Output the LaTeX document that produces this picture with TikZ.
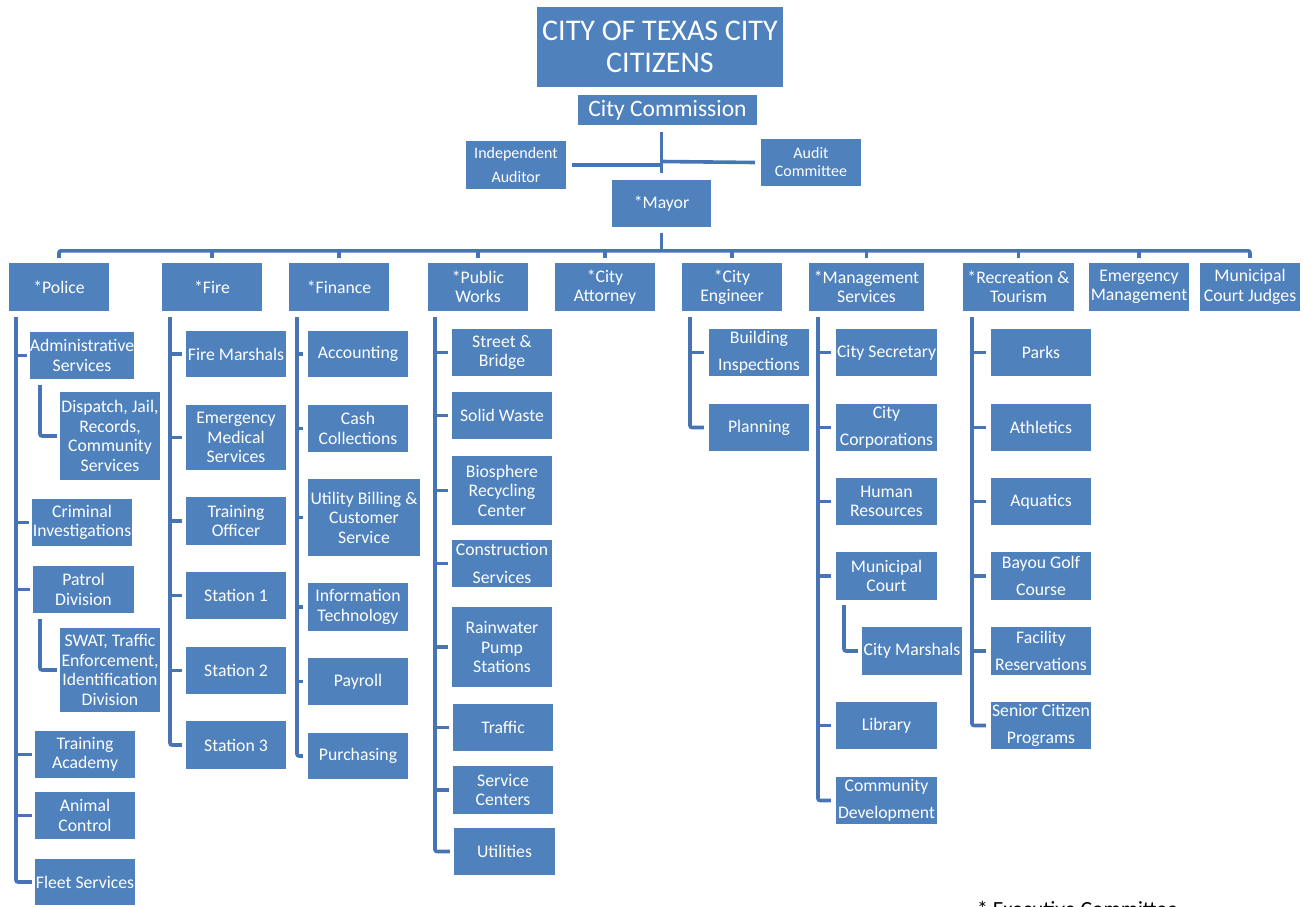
\documentclass[tikz,border=0pt]{standalone}
\usepackage{fontspec}
\setmainfont{Carlito}
\definecolor{boxblue}{HTML}{4F81BD}
\definecolor{lineblue}{HTML}{4674B5}
\tikzset{
  box/.style={fill=boxblue, draw=none, text=white, align=center, inner sep=0pt,
    font=\fontsize{17.7}{19.5}\selectfont},
  wide/.style={font=\fontsize{17.7}{27.5}\selectfont},
  conn/.style={draw=lineblue, line width=3.6pt, rounded corners=2pt}
}
\newcommand{\orgbox}[7][]{\node[box,#1,minimum width={#5-#3},minimum height={#6-#4}] (#2) at ({(#3+#5)/2},{(#4+#6)/2}) {#7};}
\begin{document}
\begin{tikzpicture}[x=1pt,y=-1pt]
\useasboundingbox (0,0) rectangle (1312,907);
% top
\orgbox[font=\fontsize{30}{32}\selectfont]{title}{537}{7}{783}{87}{CITY OF TEXAS CITY\\CITIZENS}
\orgbox[font=\fontsize{23.5}{26}\selectfont]{comm}{578}{95}{757}{125}{City Commission}
\orgbox[font=\fontsize{16}{24}\selectfont]{ind}{466}{141}{566}{189}{Independent\\Auditor}
\orgbox[font=\fontsize{16}{18}\selectfont]{aud}{761}{139}{861}{186}{Audit\\Committee}
\orgbox{mayor}{612}{180}{711}{227}{*Mayor}
% level 2
\orgbox{police}{9}{263}{109}{311}{*Police}
\orgbox{fire}{162}{263}{262}{311}{*Fire}
\orgbox{finance}{289}{263}{389}{311}{*Finance}
\orgbox{pw}{428}{263}{528}{311}{*Public\\Works}
\orgbox{atty}{555}{263}{655}{311}{*City\\Attorney}
\orgbox{eng}{682}{263}{782}{311}{*City\\Engineer}
\orgbox{mgmt}{809}{263}{924}{311}{*Management\\Services}
\orgbox{rec}{963}{263}{1074}{311}{*Recreation \&\\Tourism}
\orgbox{emerg}{1089}{263}{1189}{311}{Emergency\\Management}
\orgbox{judges}{1200}{263}{1300}{311}{Municipal\\Court Judges}
% police
\orgbox{admin}{32}{332}{132}{379}{Administrative\\Services}
\orgbox{dispatch}{60}{392}{160}{480}{Dispatch, Jail,\\Records,\\Community\\Services}
\orgbox{crim}{32}{499}{132}{546}{Criminal\\Investigations}
\orgbox{patrol}{33}{566}{134}{613}{Patrol\\Division}
\orgbox{swat}{60}{628}{160}{712}{SWAT, Traffic\\Enforcement,\\Identification\\Division}
\orgbox{tacad}{35}{731}{135}{778}{Training\\Academy}
\orgbox{animal}{35}{792}{135}{839}{Animal\\Control}
\orgbox{fleet}{35}{859}{135}{905}{Fleet Services}
% fire
\orgbox{fm}{186}{331}{286}{377}{Fire Marshals}
\orgbox{ems}{186}{405}{286}{470}{Emergency\\Medical\\Services}
\orgbox{tofc}{186}{497}{286}{545}{Training\\Officer}
\orgbox{sa}{186}{572}{286}{619}{Station 1}
\orgbox{sb}{186}{647}{286}{694}{Station 2}
\orgbox{sc}{186}{721}{286}{769}{Station 3}
% finance
\orgbox{acct}{308}{331}{408}{377}{Accounting}
\orgbox{cash}{308}{405}{408}{452}{Cash\\Collections}
\orgbox{ubill}{308}{479}{420}{556}{Utility Billing \&\\Customer\\Service}
\orgbox{it}{308}{583}{408}{631}{Information\\Technology}
\orgbox{pay}{308}{658}{408}{705}{Payroll}
\orgbox{purch}{308}{733}{408}{779}{Purchasing}
% public works
\orgbox{street}{452}{329}{552}{376}{Street \&\\Bridge}
\orgbox{solid}{452}{392}{552}{439}{Solid Waste}
\orgbox{bio}{452}{456}{552}{525}{Biosphere\\Recycling\\Center}
\orgbox[wide]{cons}{452}{540}{552}{587}{Construction\\Services}
\orgbox{rain}{452}{607}{552}{687}{Rainwater\\Pump\\Stations}
\orgbox{traffic}{453}{704}{553}{751}{Traffic}
\orgbox{svc}{453}{766}{553}{814}{Service\\Centers}
\orgbox{util}{454}{828}{555}{875}{Utilities}
% engineer
\orgbox[wide]{bi}{709}{329}{809}{376}{Building\\Inspections}
\orgbox{plan}{709}{404}{809}{451}{Planning}
% management
\orgbox{sec}{836}{329}{937}{376}{City Secretary}
\orgbox[wide]{corp}{836}{404}{937}{451}{City\\Corporations}
\orgbox{hr}{836}{478}{937}{525}{Human\\Resources}
\orgbox{mc}{836}{552}{937}{600}{Municipal\\Court}
\orgbox{marsh}{862}{627}{962}{675}{City Marshals}
\orgbox{lib}{836}{702}{937}{749}{Library}
\orgbox[wide]{cd}{836}{777}{937}{824}{Community\\Development}
% recreation
\orgbox{parks}{991}{329}{1091}{376}{Parks}
\orgbox{ath}{991}{404}{1091}{451}{Athletics}
\orgbox{aqu}{991}{478}{1091}{525}{Aquatics}
\orgbox[wide]{golf}{991}{552}{1091}{600}{Bayou Golf\\Course}
\orgbox[wide]{fac}{991}{627}{1091}{675}{Facility\\Reservations}
\orgbox[wide]{senior}{991}{702}{1091}{749}{Senior Citizen\\Programs}
% footnote
\node[anchor=base west, inner sep=0pt, font=\fontsize{21.6}{24}\selectfont, text=black] (exec) at (977,916) {* Executive Committee};

% top connectors
\draw[conn] ([yshift=-7]comm.south -| mayor.north) -- ([yshift=7]mayor.north);
\draw[conn] ([xshift=6]ind.east) -- (ind.east -| mayor.north);
\draw[conn] ([yshift=1]mayor.north |- aud.west) -- ([xshift=-6]aud.west);
\draw[conn] ([yshift=-6]mayor.south) -- ([yshift=12]mayor.south |- police.north);
% bus
\draw[conn] ([yshift=5]police.north) |- ([yshift=12]judges.north) -- ([yshift=5]judges.north);
\foreach \n in {fire,finance,pw,atty,eng,mgmt,rec,emerg}
  \draw[conn, rounded corners=0pt] ([yshift=5]\n.north) -- ([yshift=13]\n.north);
% column tops
\coordinate (polV) at (16,317);
\coordinate (fireV) at (170,317);
\coordinate (finV) at (297,317);
\coordinate (pwV) at (435,317);
\coordinate (engV) at (690,317);
\coordinate (mgV) at (818,317);
\coordinate (recV) at (972,317);
% police
\draw[conn] (polV) |- ([xshift=-3]fleet.west);
\foreach \c in {admin,crim,patrol,tacad,animal}
  \draw[conn, rounded corners=0pt] (polV |- \c.west) -- ([xshift=-3]\c.west);
\coordinate (dspV) at (40,385);
\draw[conn] (dspV) |- ([xshift=-3]dispatch.west);
\coordinate (swV) at (40,619);
\draw[conn] (swV) |- ([xshift=-3]swat.west);
% fire
\draw[conn] (fireV) |- ([xshift=-4]sc.west);
\foreach \c in {fm,ems,tofc,sa,sb}
  \draw[conn, rounded corners=0pt] (fireV |- \c.west) -- ([xshift=-4]\c.west);
% finance
\draw[conn] (finV) |- ([xshift=-5]purch.west);
\foreach \c in {acct,cash,ubill,it,pay}
  \draw[conn, rounded corners=0pt] (finV |- \c.west) -- ([xshift=-5]\c.west);
% public works
\draw[conn] (pwV) |- ([xshift=-4]util.west);
\foreach \c in {street,solid,bio,cons,rain,traffic,svc}
  \draw[conn, rounded corners=0pt] (pwV |- \c.west) -- ([xshift=-4]\c.west);
% engineer
\draw[conn] (engV) |- ([xshift=-5]plan.west);
\draw[conn, rounded corners=0pt] (engV |- bi.west) -- ([xshift=-5]bi.west);
% management
\draw[conn] (mgV) |- ([xshift=-5]cd.west);
\foreach \c in {sec,corp,hr,mc,lib}
  \draw[conn, rounded corners=0pt] (mgV |- \c.west) -- ([xshift=-5]\c.west);
\coordinate (msV) at (844,605);
\draw[conn] (msV) |- ([xshift=-4]marsh.west);
% recreation
\draw[conn] (recV) |- ([xshift=-5]senior.west);
\foreach \c in {parks,ath,aqu,golf,fac}
  \draw[conn, rounded corners=0pt] (recV |- \c.west) -- ([xshift=-5]\c.west);
\end{tikzpicture}
\end{document}
